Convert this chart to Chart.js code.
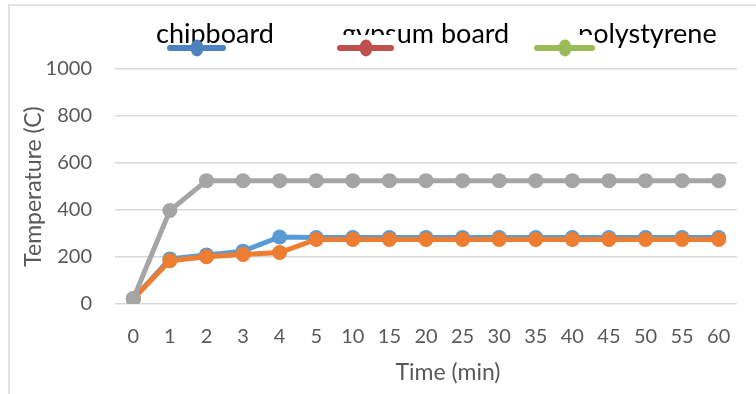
<!DOCTYPE html>
<html>
<head>
<meta charset="utf-8">
<script src="https://cdn.jsdelivr.net/npm/chart.js@4/dist/chart.umd.min.js"></script>
<style>
  html, body { margin: 0; padding: 0; background: #ffffff; }
  #wrap { width: 756px; height: 394px; }
</style>
</head>
<body>
<div id="wrap"><canvas id="c" width="756" height="394"></canvas></div>
<script>
// Time axis categories (minutes)
const times = ['0', '1', '2', '3', '4', '5', '10', '15', '20', '25', '30', '35', '40', '45', '50', '55', '60'];

// Temperature readings (C) per material
const chipboard   = [22, 192, 209, 225, 285, 283, 283, 283, 283, 283, 283, 283, 283, 283, 283, 283, 283];
const gypsumBoard = [22, 184, 201, 211, 219, 275, 275, 275, 275, 275, 275, 275, 275, 275, 275, 275, 275];
const polystyrene = [22, 398, 525, 525, 525, 525, 525, 525, 525, 525, 525, 525, 525, 525, 525, 525, 525];

const seriesNames = ['chipboard', 'gypsum board', 'polystyrene'];

const FONT = 'Lato';
const GREY_TEXT = '#595959';

// Legend row with line-and-dot swatches drawn over the lower part of each label
const legendRow = {
  id: 'legendRow',
  afterDraw(chart) {
    const ctx = chart.ctx;
    const entries = [
      { text: seriesNames[0], tx: 156, x0: 170, x1: 223, cx: 197, color: '#4F81BD', mask: null },
      { text: seriesNames[1], tx: 342, x0: 340, x1: 391, cx: 366, color: '#C0504D', mask: [338, 35, 58, 24] },
      { text: seriesNames[2], tx: 578, x0: 537, x1: 592, cx: 565, color: '#9BBB59', mask: [533, 35, 62, 24] }
    ];
    const y = 48;
    ctx.save();
    entries.forEach(e => {
      ctx.font = '27px ' + FONT;
      ctx.fillStyle = '#000000';
      ctx.textAlign = 'left';
      ctx.textBaseline = 'alphabetic';
      ctx.fillText(e.text, e.tx, 43);
      if (e.mask) {
        ctx.fillStyle = '#ffffff';
        ctx.fillRect(e.mask[0], e.mask[1], e.mask[2], e.mask[3]);
      }
      ctx.strokeStyle = e.color;
      ctx.lineWidth = 6;
      ctx.lineCap = 'round';
      ctx.beginPath();
      ctx.moveTo(e.x0, y);
      ctx.lineTo(e.x1, y);
      ctx.stroke();
      ctx.fillStyle = e.color;
      ctx.beginPath();
      ctx.ellipse(e.cx, y, 6.5, 8.5, 0, 0, Math.PI * 2);
      ctx.fill();
    });
    ctx.restore();
  }
};

// Outer frame lines and the horizontal axis title
const frameAndTitle = {
  id: 'frameAndTitle',
  beforeDraw(chart) {
    const ctx = chart.ctx;
    ctx.save();
    ctx.fillStyle = '#ffffff';
    ctx.fillRect(0, 0, chart.width, chart.height);
    ctx.strokeStyle = '#d9d9d9';
    ctx.lineWidth = 1.5;
    ctx.beginPath();
    ctx.moveTo(9, chart.height);
    ctx.lineTo(9, 5);
    ctx.lineTo(chart.width, 5);
    ctx.stroke();
    ctx.restore();
  },
  afterDraw(chart) {
    const ctx = chart.ctx;
    ctx.save();
    ctx.font = '23px ' + FONT;
    ctx.fillStyle = GREY_TEXT;
    ctx.textAlign = 'center';
    ctx.textBaseline = 'middle';
    ctx.fillText('Time (min)', 448, 373);
    ctx.restore();
  }
};

const lineStyle = (color, order) => ({
  borderColor: color,
  backgroundColor: color,
  pointBackgroundColor: color,
  pointBorderColor: color,
  pointBorderWidth: 0,
  pointRadius: 7.5,
  pointHoverRadius: 7.5,
  borderWidth: 5,
  tension: 0,
  fill: false,
  order: order
});

new Chart(document.getElementById('c'), {
  type: 'line',
  data: {
    labels: times,
    datasets: [
      { label: seriesNames[0], data: chipboard, ...lineStyle('#5B9BD5', 3) },
      { label: seriesNames[1], data: gypsumBoard, ...lineStyle('#ED7D31', 2) },
      { label: seriesNames[2], data: polystyrene, ...lineStyle('#A5A5A5', 1) }
    ]
  },
  options: {
    responsive: false,
    animation: false,
    devicePixelRatio: 1,
    layout: { padding: { left: 0, right: 19, top: 69, bottom: 0 } },
    plugins: {
      legend: { display: false },
      tooltip: { enabled: false }
    },
    scales: {
      x: {
        type: 'category',
        offset: true,
        grid: { display: false, drawTicks: false },
        border: { display: false },
        ticks: {
          font: { family: FONT, size: 20 },
          color: GREY_TEXT,
          padding: 21,
          maxRotation: 0,
          autoSkip: false
        },
        afterFit(scale) { scale.height = 90; }
      },
      y: {
        min: 0,
        max: 1000,
        grid: { color: '#d9d9d9', lineWidth: 1.5, drawTicks: false },
        border: { display: false },
        ticks: {
          stepSize: 200,
          font: { family: FONT, size: 20 },
          color: GREY_TEXT,
          padding: 23,
          callback: (value) => String(value)
        },
        title: {
          display: true,
          text: 'Temperature (C)',
          font: { family: FONT, size: 23 },
          color: GREY_TEXT,
          padding: { top: 20, bottom: 0 }
        },
        afterFit(scale) { scale.width = 115; }
      }
    }
  },
  plugins: [frameAndTitle, legendRow]
});
</script>
</body>
</html>
